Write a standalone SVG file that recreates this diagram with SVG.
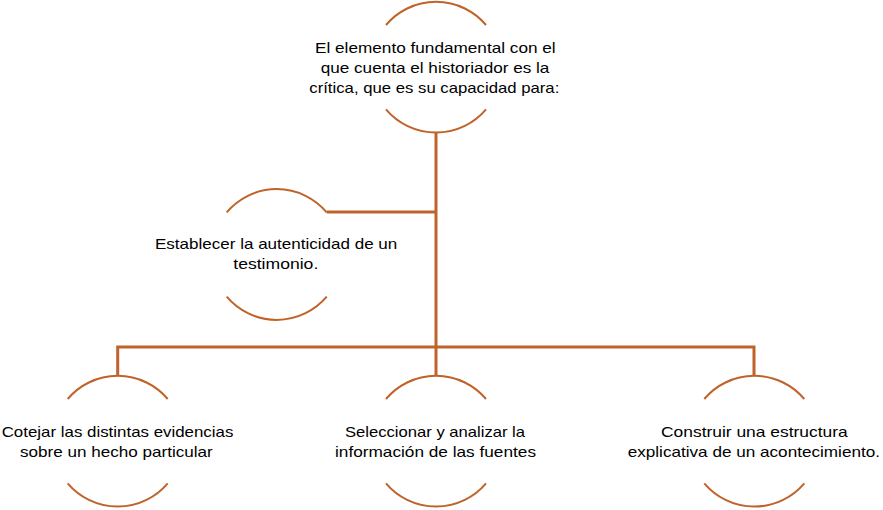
<svg xmlns="http://www.w3.org/2000/svg" width="883" height="510" viewBox="0 0 883 510">
<style>
.arc{fill:none;stroke:#C0632B;stroke-width:2}
.con{fill:none;stroke:#C0632B;stroke-width:3}
text{font-family:"Liberation Sans",Arial,sans-serif;font-size:15px;fill:#000}
</style>
<rect width="883" height="510" fill="#fff"/>
<g id="connectors">
<path class="con" d="M436,132.7 V347"/>
<path class="con" d="M326.7,212 H436"/>
<path class="con" d="M117.7,376 V347 H754 V376"/>
<path class="con" d="M436,347 V376"/>
</g>
<g id="node-root">
<path class="arc" d="M386,25 A65.5,65.5 0 0 1 486,25"/>
<path class="arc" d="M386,109.4 A65.5,65.5 0 0 0 486,109.4"/>
<text x="315" y="53" textLength="240.7" lengthAdjust="spacingAndGlyphs">El elemento fundamental con el</text>
<text x="320.7" y="73" textLength="228.7" lengthAdjust="spacingAndGlyphs">que cuenta el historiador es la</text>
<text x="309.3" y="93.3" textLength="250" lengthAdjust="spacingAndGlyphs">crítica, que es su capacidad para:</text>
</g>
<g id="node-autenticidad">
<path class="arc" d="M226.7,212.3 A65.5,65.5 0 0 1 326.7,212.3"/>
<path class="arc" d="M226.7,296.7 A65.5,65.5 0 0 0 326.7,296.7"/>
<text x="155" y="249.3" textLength="242.3" lengthAdjust="spacingAndGlyphs">Establecer la autenticidad de un</text>
<text x="233.3" y="269.3" textLength="85" lengthAdjust="spacingAndGlyphs">testimonio.</text>
</g>
<g id="node-cotejar">
<path class="arc" d="M67.7,399 A65.5,65.5 0 0 1 167.7,399"/>
<path class="arc" d="M67.7,483.4 A65.5,65.5 0 0 0 167.7,483.4"/>
<text x="1.7" y="436.7" textLength="231.7" lengthAdjust="spacingAndGlyphs">Cotejar las distintas evidencias</text>
<text x="20" y="456.7" textLength="192.7" lengthAdjust="spacingAndGlyphs">sobre un hecho particular</text>
</g>
<g id="node-seleccionar">
<path class="arc" d="M386,399 A65.5,65.5 0 0 1 486,399"/>
<path class="arc" d="M386,483.4 A65.5,65.5 0 0 0 486,483.4"/>
<text x="345" y="436.7" textLength="180" lengthAdjust="spacingAndGlyphs">Seleccionar y analizar la</text>
<text x="335" y="456.7" textLength="201" lengthAdjust="spacingAndGlyphs">información de las fuentes</text>
</g>
<g id="node-construir">
<path class="arc" d="M704.3,399 A65.5,65.5 0 0 1 804.3,399"/>
<path class="arc" d="M704.3,483.4 A65.5,65.5 0 0 0 804.3,483.4"/>
<text x="661" y="436.7" textLength="186.7" lengthAdjust="spacingAndGlyphs">Construir una estructura</text>
<text x="627.7" y="456.7" textLength="252.3" lengthAdjust="spacingAndGlyphs">explicativa de un acontecimiento.</text>
</g>
</svg>
